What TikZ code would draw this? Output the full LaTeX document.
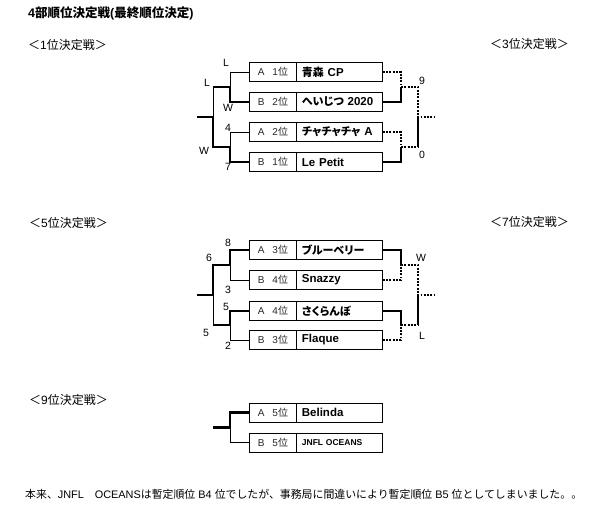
\documentclass[tikz,border=0pt]{standalone}
\usepackage{fontspec}
\setmainfont{Liberation Sans}
\newfontfamily\jpfont{Noto Sans CJK JP}
\newfontfamily\jpteam[RawFeature=+palt]{Noto Sans CJK JP}
\usetikzlibrary{positioning}
\tikzset{
  x=1pt, y=-1pt,
}
\tikzstyle{seed}=[draw,line width=.8pt,minimum width=47pt,minimum height=19pt,inner sep=0pt,anchor=west,text=black!85,font=\fontsize{10}{12}\selectfont]
\tikzstyle{team}=[draw,line width=.8pt,minimum height=19pt,text width=75pt,inner xsep=5.5pt,inner ysep=0pt,align=left,font=\bfseries\fontsize{11.5}{13}\selectfont]
\tikzstyle{lose}=[line width=.9pt]
\tikzstyle{win}=[line width=2.4pt]
\tikzstyle{link}=[line width=1.3pt]
\tikzstyle{open}=[line width=1.9pt,dash pattern=on 1.9pt off 1.4pt]
\tikzstyle{score}=[inner sep=0pt,font=\fontsize{10.5}{12}\selectfont]
\tikzstyle{heading}=[inner sep=0pt,font=\fontsize{12}{14}\selectfont]

\begin{document}
\begin{tikzpicture}
  \useasboundingbox (0,0) rectangle (600,507);

  \node[heading,anchor=west,font=\bfseries\fontsize{12.5}{14}\selectfont] (title) at (28,13) {4{\jpfont 部順位決定戦}({\jpfont 最終順位決定})};

  % 1st / 3rd place
  \node[heading,anchor=west] (h1) at (28,45) {{\jpfont ＜}1{\jpfont 位決定戦＞}};
  \node[heading,anchor=east] (h3) at (569,44) {{\jpfont ＜}3{\jpfont 位決定戦＞}};

  \node[seed] (a1) at (249,72) {A\hspace{8pt}1{\jpfont 位}};
  \node[team,right=-.8pt of a1] (t1) {{\jpteam\fontsize{11}{13}\selectfont 青森} CP};
  \node[seed] (b2) at (249,102) {B\hspace{8pt}2{\jpfont 位}};
  \node[team,right=-.8pt of b2] (t2) {\mbox{{\jpteam\fontsize{11}{13}\selectfont へいじつ} 2020}};
  \node[seed] (a2) at (249,132) {A\hspace{8pt}2{\jpfont 位}};
  \node[team,right=-.8pt of a2] (t3) {\mbox{{\jpteam\fontsize{11}{13}\selectfont チャチャチャ} A}};
  \node[seed] (b1) at (249,162) {B\hspace{8pt}1{\jpfont 位}};
  \node[team,right=-.8pt of b1] (t4) {Le Petit};

  \coordinate (j1) at (230,87);
  \coordinate (j2) at (230,147);
  \coordinate (m1) at (213,117);
  \coordinate (s1) at (197,117);
  \draw[lose] (a1.west) -| (j1);
  \draw[lose] (a2.west) -| (j2);
  \draw[lose] (m1) -- (m1 |- j1);
  \draw[win] (m1 |- j1) -- (j1) |- (b2.west);
  \draw[win] (s1) -- (m1) |- (j2) |- (b1.west);

  \coordinate (r1) at (401,87);
  \coordinate (r2) at (401,147);
  \coordinate (n1) at (418,117);
  \coordinate (e1) at (434,117);
  \draw[open] (t1.east) -| (r1);
  \draw[link] (t2.east) -| (r1);
  \draw[open] (t3.east) -| (r2);
  \draw[link] (t4.east) -| (r2);
  \draw[open] (r1) -| (n1) -- (e1);
  \draw[open] (r2) -- (r2 -| n1);
  \draw[link] (r2 -| n1) -- (n1);

  \node[score] (l1) at (226,63) {L};
  \node[score] (l2) at (207,83) {L};
  \node[score] (w1) at (228,108) {W};
  \node[score] (p4) at (228,128) {4};
  \node[score] (w2) at (204,151) {W};
  \node[score] (p7) at (228,167) {7};
  \node[score] (p9) at (422,81) {9};
  \node[score] (p0) at (422,155) {0};

  % 5th / 7th place
  \node[heading,anchor=west] (h5) at (29,223) {{\jpfont ＜}5{\jpfont 位決定戦＞}};
  \node[heading,anchor=east] (h7) at (569,222) {{\jpfont ＜}7{\jpfont 位決定戦＞}};

  \node[seed] (a3) at (249,250) {A\hspace{8pt}3{\jpfont 位}};
  \node[team,right=-.8pt of a3] (t5) {{\jpteam\fontsize{11}{13}\selectfont ブルーベリー}};
  \node[seed] (b4) at (249,280) {B\hspace{8pt}4{\jpfont 位}};
  \node[team,right=-.8pt of b4] (t6) {Snazzy};
  \node[seed] (a4) at (249,311) {A\hspace{8pt}4{\jpfont 位}};
  \node[team,right=-.8pt of a4] (t7) {{\jpteam\fontsize{11}{13}\selectfont さくらんぼ}};
  \node[seed] (b3) at (249,340) {B\hspace{8pt}3{\jpfont 位}};
  \node[team,right=-.8pt of b3] (t8) {Flaque};

  \coordinate (j3) at (230,265);
  \coordinate (j4) at (230,325);
  \coordinate (m2) at (213,295);
  \coordinate (s2) at (197,295);
  \draw[lose] (j3) |- (b4.west);
  \draw[lose] (j4) |- (b3.west);
  \draw[lose] (m2) -- (m2 |- j4);
  \draw[win] (m2 |- j4) -- (j4) |- (a4.west);
  \draw[win] (s2) -- (m2) |- (j3) |- (a3.west);

  \coordinate (r3) at (401,265);
  \coordinate (r4) at (401,325);
  \coordinate (n2) at (418,295);
  \coordinate (e2) at (434,295);
  \draw[link] (t5.east) -| (r3);
  \draw[open] (t6.east) -| (r3);
  \draw[link] (t7.east) -| (r4);
  \draw[open] (t8.east) -| (r4);
  \draw[open] (r3) -| (n2) -- (e2);
  \draw[open] (r4) -- (r4 -| n2);
  \draw[link] (r4 -| n2) -- (n2);

  \node[score] (p8) at (228,243) {8};
  \node[score] (p6) at (209,258) {6};
  \node[score] (p3) at (228,290) {3};
  \node[score] (p5a) at (226,307) {5};
  \node[score] (p5b) at (206,333) {5};
  \node[score] (p2) at (228,346) {2};
  \node[score] (wW) at (421,258) {W};
  \node[score] (lL) at (422,336) {L};

  % 9th place
  \node[heading,anchor=west] (h9) at (29,400) {{\jpfont ＜}9{\jpfont 位決定戦＞}};

  \node[seed] (a5) at (249,412.5) {A\hspace{8pt}5{\jpfont 位}};
  \node[team,right=-.8pt of a5] (t9) {Belinda};
  \node[seed] (b5) at (249,442.5) {B\hspace{8pt}5{\jpfont 位}};
  \node[team,right=-.8pt of b5,font=\bfseries\fontsize{8.5}{10}\selectfont] (t10) {JNFL OCEANS};

  \coordinate (j5) at (230,427.5);
  \coordinate (s3) at (213,427.5);
  \draw[lose] (j5) |- (b5.west);
  \draw[win] (s3) -- (j5) |- (a5.west);

  \node[heading,anchor=west,font=\fontsize{10.9}{13}\selectfont] (note) at (25,494) {{\jpfont 本来、}JNFL{\jpfont 　}OCEANS{\jpfont は暫定順位} B4 {\jpfont 位でしたが、事務局に間違いにより暫定順位} B5 {\jpfont 位としてしまいました。。}};
\end{tikzpicture}
\end{document}
